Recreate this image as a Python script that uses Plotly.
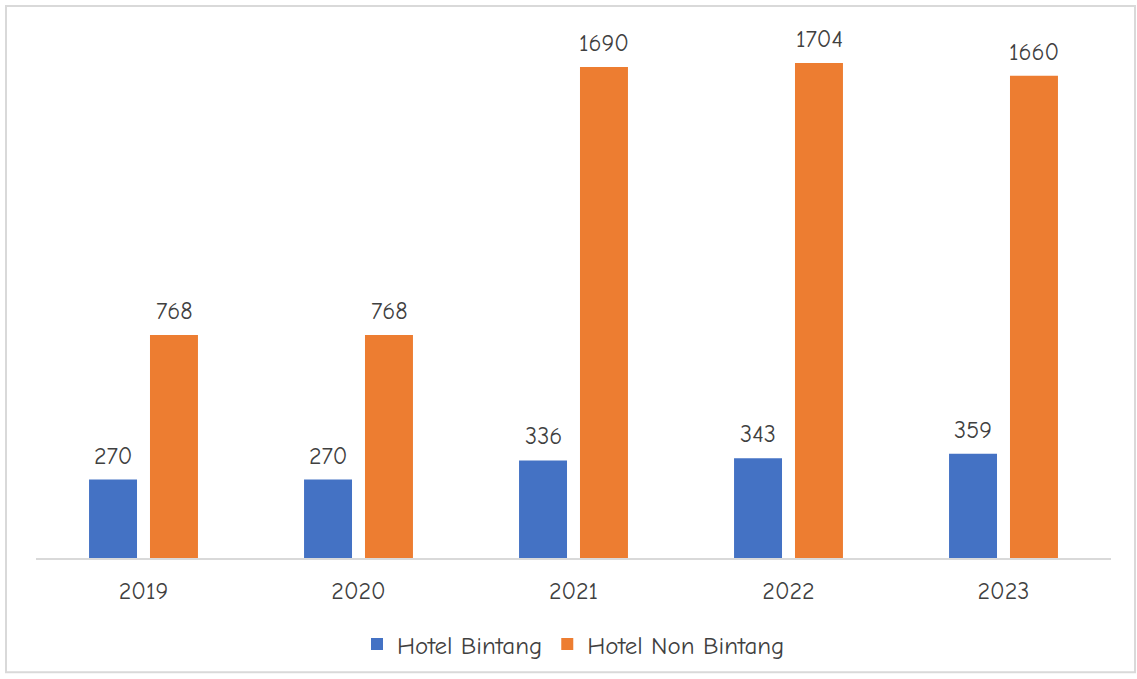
import plotly.graph_objects as go

years = ["2019", "2020", "2021", "2022", "2023"]
bintang = [270, 270, 336, 343, 359]
non_bintang = [768, 768, 1690, 1704, 1660]

W, H = 1137, 679
L, R, T, B = 36, 26, 22, 117
pw, ph = W - L - R, H - T - B

font_family = "Comic Neue, Lato, DejaVu Sans, sans-serif"
txt_color = "#404040"

fig = go.Figure()
fig.add_trace(go.Bar(
    x=years, y=bintang, name="Hotel Bintang",
    marker=dict(color="#4472C4", line=dict(width=0)),
))
fig.add_trace(go.Bar(
    x=years, y=non_bintang, name="Hotel Non Bintang",
    marker=dict(color="#ED7D31", line=dict(width=0)),
))

# value labels above bars (x given as category index)
for series, shift in ((bintang, -30.5), (non_bintang, 30.5)):
    for i, v in enumerate(series):
        fig.add_annotation(x=i, y=v, xshift=shift, yshift=8, text=str(v),
                           showarrow=False, yanchor="bottom",
                           font=dict(size=24, color=txt_color, family=font_family))

def px_x(p):
    return (p - L) / pw

def px_y(p):
    return 1 - (p - T) / ph

fig.add_shape(type="rect", xref="paper", yref="paper",
              x0=px_x(6), x1=px_x(1135), y0=px_y(677), y1=px_y(6),
              line=dict(color="#d9d9d9", width=2), layer="below")

fig.update_layout(
    width=W, height=H,
    margin=dict(l=L, r=R, t=T, b=B),
    paper_bgcolor="white", plot_bgcolor="white",
    barmode="group", bargap=0.433, bargroupgap=0.213,
    font=dict(family=font_family, color=txt_color, size=24),
    showlegend=True,
    legend=dict(orientation="h", x=0.5, xanchor="center", y=px_y(649), yanchor="middle",
                font=dict(size=25, color=txt_color, family=font_family),
                itemwidth=30, traceorder="normal"),
)
fig.update_xaxes(type="category", range=[-0.5, len(years) - 0.5],
                 showline=True, linecolor="#d9d9d9", linewidth=2, ticks="",
                 ticklabelstandoff=10,
                 tickfont=dict(size=24, color=txt_color), showgrid=False)
fig.update_yaxes(range=[0, 1845], visible=False, showgrid=False, zeroline=False)

fig.write_html("out.html", config={"displayModeBar": False},
               post_script="document.body.style.margin='0px';")
